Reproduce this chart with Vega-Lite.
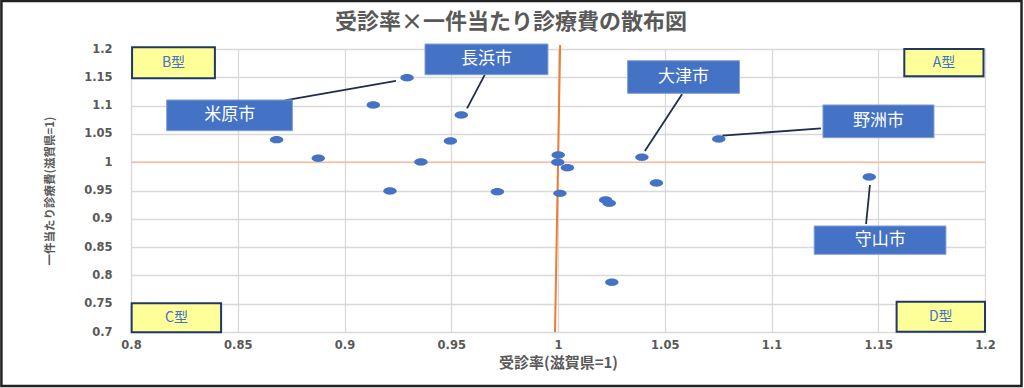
{
  "$schema": "https://vega.github.io/schema/vega-lite/v6.json",
  "width": 854,
  "height": 283,
  "autosize": {"type": "none"},
  "padding": {"left": 131, "top": 49, "right": 39, "bottom": 56},
  "background": "white",
  "title": {
    "text": "受診率×一件当たり診療費の散布図",
    "font": "Noto Sans CJK JP",
    "fontSize": 22,
    "fontWeight": "bold",
    "color": "#595959",
    "frame": "group",
    "anchor": "middle",
    "dx": -47,
    "offset": -34
  },
  "config": {
    "view": {"stroke": null},
    "axis": {
      "grid": true,
      "gridColor": "#d9d9d9",
      "gridWidth": 1.3,
      "domain": false,
      "ticks": false,
      "labelFont": "DejaVu Sans",
      "labelFontWeight": "bold",
      "labelFontSize": 11.5,
      "labelColor": "#595959",
      "labelFlush": false,
      "labelOverlap": false,
      "titleFont": "Noto Sans CJK JP",
      "titleFontWeight": "bold",
      "titleColor": "#595959"
    }
  },
  "datasets": {
    "points": [
      {"x": 0.9293, "y": 1.1493, "city": "米原市"},
      {"x": 0.9135, "y": 1.101, "city": ""},
      {"x": 0.8682, "y": 1.0398, "city": ""},
      {"x": 0.8877, "y": 1.0069, "city": ""},
      {"x": 0.9358, "y": 1.0004, "city": ""},
      {"x": 0.9213, "y": 0.9491, "city": ""},
      {"x": 0.9716, "y": 0.9479, "city": ""},
      {"x": 0.9547, "y": 1.0834, "city": "長浜市"},
      {"x": 0.9496, "y": 1.0375, "city": ""},
      {"x": 1.0001, "y": 1.0127, "city": ""},
      {"x": 0.9999, "y": 0.9998, "city": ""},
      {"x": 1.0044, "y": 0.9903, "city": ""},
      {"x": 1.0009, "y": 0.945, "city": ""},
      {"x": 1.0393, "y": 1.0087, "city": "大津市"},
      {"x": 1.0753, "y": 1.041, "city": "野洲市"},
      {"x": 1.0461, "y": 0.9633, "city": ""},
      {"x": 1.0223, "y": 0.9332, "city": ""},
      {"x": 1.024, "y": 0.9274, "city": ""},
      {"x": 1.0252, "y": 0.7878, "city": ""},
      {"x": 1.1458, "y": 0.9739, "city": "守山市"}
    ],
    "boxes": [
      {"label": "長浜市", "kind": "city", "x": 0.9377, "x2": 0.9953, "y": 1.1546, "y2": 1.2088},
      {"label": "大津市", "kind": "city", "x": 1.0326, "x2": 1.085, "y": 1.1217, "y2": 1.1793},
      {"label": "野洲市", "kind": "city", "x": 1.1241, "x2": 1.1761, "y": 1.0433, "y2": 1.1011},
      {"label": "米原市", "kind": "city", "x": 0.8167, "x2": 0.8756, "y": 1.0557, "y2": 1.1099},
      {"label": "守山市", "kind": "city", "x": 1.12, "x2": 1.1817, "y": 0.8373, "y2": 0.8873},
      {"label": "A型", "kind": "type", "x": 1.1622, "x2": 1.1993, "y": 1.1518, "y2": 1.2},
      {"label": "B型", "kind": "type", "x": 0.8005, "x2": 0.8393, "y": 1.1482, "y2": 1.203},
      {"label": "C型", "kind": "type", "x": 0.8003, "x2": 0.8422, "y": 0.6995, "y2": 0.7507},
      {"label": "D型", "kind": "type", "x": 1.1586, "x2": 1.2, "y": 0.7005, "y2": 0.7535}
    ],
    "labels": [
      {"label": "長浜市", "kind": "city", "x": 0.9665, "y": 1.1817},
      {"label": "大津市", "kind": "city", "x": 1.0588, "y": 1.1505},
      {"label": "野洲市", "kind": "city", "x": 1.1501, "y": 1.0722},
      {"label": "米原市", "kind": "city", "x": 0.8462, "y": 1.0828},
      {"label": "守山市", "kind": "city", "x": 1.1509, "y": 0.8623},
      {"label": "A型", "kind": "type", "x": 1.1808, "y": 1.1759},
      {"label": "B型", "kind": "type", "x": 0.8199, "y": 1.1756},
      {"label": "C型", "kind": "type", "x": 0.8213, "y": 0.7251},
      {"label": "D型", "kind": "type", "x": 1.1793, "y": 0.727}
    ],
    "leaders": [
      {"city": "長浜市", "x": 0.9658, "y": 1.1553, "x2": 0.9574, "y2": 1.0952},
      {"city": "大津市", "x": 1.0581, "y": 1.12, "x2": 1.0407, "y2": 1.0198},
      {"city": "野洲市", "x": 1.1232, "y": 1.0599, "x2": 1.077, "y2": 1.0468},
      {"city": "米原市", "x": 0.8721, "y": 1.1094, "x2": 0.9241, "y2": 1.1435},
      {"city": "守山市", "x": 1.1461, "y": 0.9597, "x2": 1.1443, "y2": 0.8908}
    ],
    "refs": [
      {"kind": "h", "x": 0.8, "y": 1.0, "x2": 1.2, "y2": 1.0},
      {"kind": "v", "x": 1.001, "y": 1.207, "x2": 0.9986, "y2": 0.7}
    ],
    "frame": [
      {"x": 0.7393, "x2": 1.2171, "y": 0.6046, "y2": 1.2848}
    ]
  },
  "encoding": {
    "x": {
      "field": "x",
      "type": "quantitative",
      "title": "受診率(滋賀県=1)",
      "scale": {"domain": [0.8, 1.2], "nice": false, "zero": false},
      "axis": {
        "values": [0.8, 0.85, 0.9, 0.95, 1, 1.05, 1.1, 1.15, 1.2],
        "format": "~g",
        "labelPadding": 7,
        "titlePadding": 5,
        "titleFontSize": 15
      }
    },
    "y": {
      "field": "y",
      "type": "quantitative",
      "title": "一件当たり診療費(滋賀県=1)",
      "scale": {"domain": [0.7, 1.2], "nice": false, "zero": false},
      "axis": {
        "values": [0.7, 0.75, 0.8, 0.85, 0.9, 0.95, 1, 1.05, 1.1, 1.15, 1.2],
        "format": "~g",
        "labelPadding": 19,
        "titlePadding": 28,
        "titleFontSize": 11.5
      }
    }
  },
  "layer": [
    {
      "data": {"name": "refs"},
      "transform": [{"filter": "datum.kind == 'h'"}],
      "mark": {"type": "rule", "color": "#F5BE9C", "strokeWidth": 1.5},
      "encoding": {"x2": {"field": "x2"}, "y2": {"field": "y2"}}
    },
    {
      "data": {"name": "refs"},
      "transform": [{"filter": "datum.kind == 'v'"}],
      "mark": {"type": "rule", "color": "#ED7D31", "strokeWidth": 2},
      "encoding": {"x2": {"field": "x2"}, "y2": {"field": "y2"}}
    },
    {
      "data": {"name": "points"},
      "mark": {
        "type": "point",
        "shape": "M-1,0A1,0.55,0,1,0,1,0A1,0.55,0,1,0,-1,0Z",
        "filled": true,
        "size": 180,
        "color": "#4472C4",
        "opacity": 1
      }
    },
    {
      "data": {"name": "leaders"},
      "mark": {"type": "rule", "color": "#1F2D4D", "strokeWidth": 1.8},
      "encoding": {"x2": {"field": "x2"}, "y2": {"field": "y2"}}
    },
    {
      "data": {"name": "boxes"},
      "transform": [{"filter": "datum.kind == 'city'"}],
      "mark": {"type": "rect", "fill": "#4472C4", "stroke": "#7f9fd6", "strokeWidth": 1},
      "encoding": {"x2": {"field": "x2"}, "y2": {"field": "y2"}}
    },
    {
      "data": {"name": "boxes"},
      "transform": [{"filter": "datum.kind == 'type'"}],
      "mark": {"type": "rect", "fill": "#FFFF99", "stroke": "#1F3864", "strokeWidth": 2},
      "encoding": {"x2": {"field": "x2"}, "y2": {"field": "y2"}}
    },
    {
      "data": {"name": "labels"},
      "transform": [{"filter": "datum.kind == 'city'"}],
      "mark": {"type": "text", "font": "Noto Sans CJK JP", "fontSize": 17, "color": "white", "align": "center", "baseline": "middle"},
      "encoding": {"text": {"field": "label"}}
    },
    {
      "data": {"name": "labels"},
      "transform": [{"filter": "datum.kind == 'type'"}],
      "mark": {"type": "text", "font": "Noto Sans CJK JP", "fontSize": 14, "color": "#4472C4", "align": "center", "baseline": "middle"},
      "encoding": {"text": {"field": "label"}}
    },
    {
      "data": {"name": "frame"},
      "mark": {"type": "rect", "fill": "transparent", "stroke": "#222222", "strokeWidth": 2.5},
      "encoding": {"x2": {"field": "x2"}, "y2": {"field": "y2"}}
    }
  ]
}
